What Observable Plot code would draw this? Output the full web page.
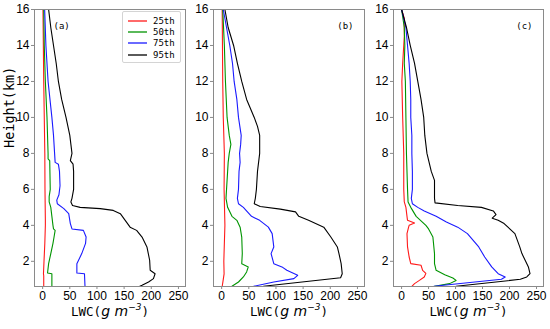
<!DOCTYPE html>
<html><head><meta charset="utf-8">
<script src="https://cdn.jsdelivr.net/npm/d3@7"></script>
<script src="https://cdn.jsdelivr.net/npm/@observablehq/plot@0.6"></script>
<style>
body{margin:0;background:#fff}
#chart{position:relative;width:550px;height:329px;overflow:hidden;background:#fff}
#chart > svg{position:absolute;top:0}
#legend{position:absolute;left:122px;top:11px;width:59px;height:52px;border:1px solid #d4d4d4;border-radius:2px;background:#fff;box-sizing:border-box;padding-top:3px}
#legend .row{height:11.3px;line-height:11.3px;display:flex;align-items:center;font:9px "DejaVu Sans Mono",monospace;color:#000;white-space:nowrap}
#legend svg{flex:0 0 auto;margin-left:5px;margin-right:6px}
</style></head><body><div id="chart"></div>
<script>
// ---------- data (height km, LWC) ----------
const pctNames = ["25th","50th","75th","95th"];
const pctColors = ["#ff1a1a","#009400","#1a1aff","#000000"];
const xTicks = [0,50,100,150,200,250];
const yTicks = [2,4,6,8,10,12,14,16];
const panelLabels = ["(a)","(b)","(c)"];

// panel (a)
const a25H = [16,12,8,6,4.3,4,3,2,1.3,1.2,1,0.6];
const a25V = [0.6,2,4,4.3,5,5,4,2.5,1.5,2,2,2];
const a50H = [16,14,12,10,8,7.7,7.6,6,5.6,5.3,5,4.5,4,3.8,3.72,3.35,3,2.43,1.87,1.35,1.31,0.6];
const a50V = [2,3,5,8,10,10,13,14,12,12,15,17,19,20,23,21,19,15,11,9,17,17];
const a75H = [16,14,12,10,9,8,7.5,7.4,7,6.2,5.7,5.4,5.2,4.93,4.65,4.28,4.1,3.8,3.72,3.35,3,2.43,1.87,1.35,1.31,0.6];
const a75V = [3.7,6,10,17,20,22,23,29,31,32,30,26,27,39,48,50,51,54,75,80,79,72,63,63,77,78];
const a95H = [16,15,14,13,12,11,10,9,8.5,8,7.6,7.4,7,6,5.5,5.3,5.1,5.0,4.93,4.83,4.65,4.28,3.9,3.72,3.35,2.8,2.06,1.5,1.31,1.04,0.85,0.67,0.6];
const a95V = [11,15,20,25,29,35,43,50,52,54,51,56,57,57,54,52,55,69,106,130,143,152,161,173,183,192,197,198,207,204,195,183,178];

// panel (b)
const b25H = [16,12,10,8,6,4,2,1.3,1,0.6];
const b25V = [1,2,3,5,4.5,6,4,4.5,3,1];
const b50H = [16,14,12,10,9,8.5,8,7.5,7,6,5.5,5,4.5,4.28,3.9,3.35,2.43,1.87,1.69,1.41,1.13,0.85,0.61];
const b50V = [2,5,7,10,14,17,14,12,11,9,8,11,19,28,34,37,38,37,49,46,40,31,19];
const b75H = [16,15,14,13,12,11,10,9,8.5,8,7.5,7,6,5.5,5.2,5,4.5,4.28,3.9,3.54,2.8,2.43,2.2,1.87,1.69,1.5,1.22,1.04,0.85,0.61];
const b75V = [3,9,15,20,23,28,31,36,35,33,34,32,31,29,31,40,55,70,86,93,96,91,93,96,111,120,140,133,96,59];
const b95H = [16,15,14,13,12,11,10,9.5,9,8,7,6,5.5,5.2,5.05,4.9,4.75,4.5,4.28,3.9,3.35,2.8,2.43,1.87,1.31,1.09,0.61];
const b95V = [6,12,22,29,37,46,60,66,70,70,66,64,62,60,71,108,136,142,160,188,201,213,216,220,222,219,77];

// panel (c)
const c25H = [16,15.5,14.5,14,13,12,10,8,6,5.3,5,4.5,4.28,4.13,4.0,3.9,3.54,2.8,2.24,1.87,1.78,1.5,1.33,1.13,0.94,0.76,0.61];
const c25V = [0,5,5,4,2,0.5,2,4,4,5,8,10,11,24,14,13,10,11,14,17,36,39,45,42,33,24,19];
const c50H = [16,15,14,13,12,10,8,6,5.3,5,4.5,4.28,4,3.8,3.35,2.43,1.87,1.5,1.25,1.07,0.94,0.76,0.61];
const c50V = [0,5,6,5,7,8,9,11,12,17,27,35,45,50,58,61,61,64,80,95,101,89,61];
const c75H = [16,15,14,13,12,11,10,9,8,7,6,5.5,5.2,5,4.8,4.5,4.19,3.9,3.54,2.8,2.24,1.69,1.31,1.13,1.0,0.61];
const c75V = [0,8,11,14,16,17,17,19,19,20,20,18,20,30,42,64,83,104,122,143,154,167,179,192,185,60];
const c95H = [16,15,14,13,12,11,10,9,8,7,6.5,6,5.5,5.25,5.1,5.0,4.8,4.6,4.4,4.28,4.1,3.54,2.8,2.43,2.06,1.69,1.31,1.13,1.0,0.61];
const c95V = [0,9,16,24,30,36,41,43,47,55,61,61,61,62,104,148,170,175,168,179,190,210,219,223,229,235,238,232,220,101];

const panelSeries = [
  [[a25H,a25V],[a50H,a50V],[a75H,a75V],[a95H,a95V]],
  [[b25H,b25V],[b50H,b50V],[b75H,b75V],[b95H,b95V]],
  [[c25H,c25V],[c50H,c50V],[c75H,c75V],[c95H,c95V]]
];

// ---------- layout ----------
const layouts = [
  {left:0,   width:190, marginLeft:34, marginRight:5},
  {left:190, width:180, marginLeft:23, marginRight:6},
  {left:370, width:180, marginLeft:23, marginRight:7}
];

const chart = document.getElementById("chart");
const tickFont = "'Liberation Sans', Arial, sans-serif";
const monoFont = "'DejaVu Sans Mono', monospace";

panelSeries.forEach((series, i) => {
  const rows = [];
  series.forEach(([H, V], k) => H.forEach((h, j) => rows.push({pct: pctNames[k], h, v: V[j]})));
  const L = layouts[i];
  const marks = [
    Plot.axisX({ticks: xTicks, tickSize: 3, tickPadding: 2, stroke: "#8a8a8a", fill: "#000", label: null, fontSize: 12}),
    Plot.axisY({ticks: yTicks, tickSize: 3, tickPadding: 2, stroke: "#8a8a8a", fill: "#000", label: null, fontSize: 12}),
    Plot.line(rows, {x: "v", y: "h", z: "pct", stroke: "pct", strokeWidth: 1.1}),
    Plot.frame({stroke: "#8a8a8a", strokeWidth: 1}),
    Plot.text([panelLabels[i]], {frameAnchor: i === 0 ? "top-left" : "top-right", dx: i === 0 ? 19 : -11, dy: 13, fontSize: 9, fontFamily: monoFont, fill: "#000"}),
    Plot.text(["LWC"], {frameAnchor: "bottom", dy: 29, fontSize: 12.5, fontFamily: monoFont, fill: "#000"})
  ];
  if (i === 0) marks.push(Plot.text(["Height(km)"], {frameAnchor: "left", dx: -25, rotate: -90, fontSize: 13.5, fontFamily: monoFont, fill: "#000"}));
  const svg = Plot.plot({
    width: L.width, height: 329,
    marginTop: 9, marginBottom: 43, marginLeft: L.marginLeft, marginRight: L.marginRight,
    style: {fontFamily: tickFont, fontSize: "12px", background: "transparent", overflow: "visible"},
    x: {domain: [-15, 263]},
    y: {domain: [0.6, 16]},
    color: {domain: pctNames, range: pctColors},
    marks
  });
  svg.style.left = L.left + "px";
  // rich x-axis label: LWC(g m^-3)
  d3.select(svg).selectAll("text").filter(function(){ return this.textContent === "LWC"; }).each(function(){
    const t = d3.select(this);
    t.text(null);
    t.append("tspan").text("LWC(");
    t.append("tspan").attr("font-style", "italic").attr("font-family", "'DejaVu Sans', sans-serif").attr("font-size", 14).text("g m");
    t.append("tspan").attr("font-style", "italic").attr("font-family", "'DejaVu Sans', sans-serif").attr("font-size", 9).attr("dy", -6).text("−3");
    t.append("tspan").attr("dy", 6).text(")");
  });
  chart.appendChild(svg);
});

// legend (HTML, from the series names and colours)
const leg = d3.select(chart).append("div").attr("id", "legend");
pctNames.forEach((n, k) => {
  const r = leg.append("div").attr("class", "row");
  const s = r.append("svg").attr("width", 19).attr("height", 4);
  s.append("line").attr("x1", 0).attr("x2", 19).attr("y1", 2).attr("y2", 2).attr("stroke", pctColors[k]).attr("stroke-width", 1.3);
  r.append("span").text(n);
});
</script></body></html>
